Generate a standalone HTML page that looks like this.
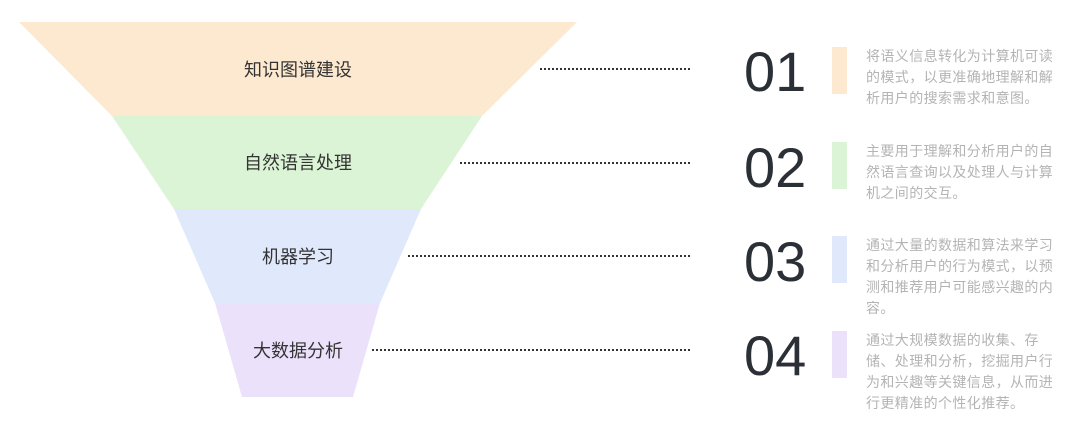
<!DOCTYPE html>
<html><head><meta charset="utf-8"><style>
body{margin:0;width:1080px;height:429px;background:#fff;position:relative;overflow:hidden;font-family:"Liberation Sans","Noto Sans CJK SC",sans-serif}
.lbl{position:absolute;font-size:18px;color:#333;width:200px;text-align:center;left:198px;line-height:24px}
.dot{position:absolute;height:0;border-top:2px dotted #333}
.num{position:absolute;left:744px;font-size:56px;color:#2b2f36;line-height:60px;font-weight:300}
.bar{position:absolute;left:832px;width:15px;height:47px}
.txt{position:absolute;left:866px;width:196px;font-size:14px;line-height:21px;color:#b4b4b4;letter-spacing:0.4px}
</style></head><body>
<svg width="1080" height="429" style="position:absolute;left:0;top:0">
<polygon points="19,22 577,22 482,116 112,116" fill="#fde8d0"/>
<polygon points="112,116 482,116 421,209 174,209" fill="#dcf4d6"/>
<polygon points="174,209 421,209 380,303 215,303" fill="#e0e8fc"/>
<polygon points="215,303 380,303 353,397 242,397" fill="#ebe1fb"/>
</svg>
<div class="lbl" style="top:58px">知识图谱建设</div>
<div class="lbl" style="top:151px">自然语言处理</div>
<div class="lbl" style="top:245px">机器学习</div>
<div class="lbl" style="top:339px">大数据分析</div>
<div class="dot" style="left:540px;width:150px;top:68px"></div>
<div class="dot" style="left:460px;width:230px;top:162px"></div>
<div class="dot" style="left:408px;width:282px;top:255px"></div>
<div class="dot" style="left:372px;width:318px;top:349px"></div>
<div class="num" style="top:42px">01</div>
<div class="num" style="top:138px">02</div>
<div class="num" style="top:232px">03</div>
<div class="num" style="top:326px">04</div>
<div class="bar" style="top:47px;background:#fde8d0"></div>
<div class="bar" style="top:142px;background:#dcf4d6"></div>
<div class="bar" style="top:236px;background:#e0e8fc"></div>
<div class="bar" style="top:331px;background:#ebe1fb"></div>
<div class="txt" style="top:46px">将语义信息转化为计算机可读的模式，以更准确地理解和解析用户的搜索需求和意图。</div>
<div class="txt" style="top:141px">主要用于理解和分析用户的自然语言查询以及处理人与计算机之间的交互。</div>
<div class="txt" style="top:235px">通过大量的数据和算法来学习和分析用户的行为模式，以预测和推荐用户可能感兴趣的内容。</div>
<div class="txt" style="top:330px">通过大规模数据的收集、存储、处理和分析，挖掘用户行为和兴趣等关键信息，从而进行更精准的个性化推荐。</div>
</body></html>
